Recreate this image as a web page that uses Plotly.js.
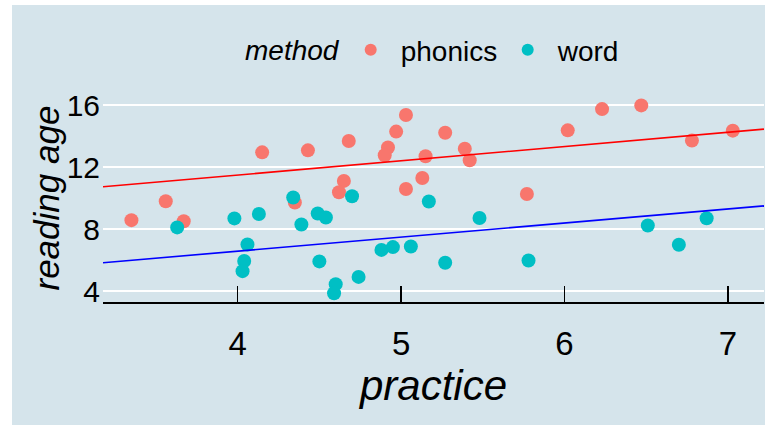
<!DOCTYPE html>
<html>
<head>
<meta charset="utf-8">
<script src="https://cdn.plot.ly/plotly-3.0.1.min.js"></script>
<style>
  html, body { margin: 0; padding: 0; background: #ffffff; width: 765px; height: 425px; overflow: hidden; }
  #chart { position: absolute; left: 12px; top: 5px; width: 753px; height: 420px; }
</style>
</head>
<body>
<div id="chart"></div>
<script>
// ---- data ----
const methods = ["phonics", "word"];
const legendTitle = "method";
const xTitle = "practice";
const yTitle = "reading age";
const phonicsPractice = [4.15, 4.43, 3.56, 3.35, 3.67, 4.35, 4.68, 5.03, 4.97, 5.27, 4.92, 4.90, 5.15, 5.39, 5.42, 4.65, 4.62, 5.03, 5.13, 6.02, 6.23, 6.47, 6.78, 7.03, 5.77];
const phonicsAge      = [12.95, 13.08, 9.80, 8.58, 8.51, 9.72, 13.68, 15.36, 14.29, 14.22, 13.26, 12.76, 12.70, 13.19, 12.44, 11.11, 10.38, 10.59, 11.30, 14.37, 15.74, 15.98, 13.71, 14.35, 10.27];
const wordPractice    = [3.63, 3.98, 4.13, 4.34, 4.39, 4.06, 4.04, 4.03, 4.70, 5.17, 4.49, 4.54, 5.48, 4.88, 4.95, 5.06, 4.50, 5.27, 4.74, 4.60, 4.59, 5.78, 6.51, 6.70, 6.87];
const wordAge         = [8.11, 8.69, 8.98, 10.04, 8.30, 7.01, 5.94, 5.29, 10.12, 9.78, 9.01, 8.75, 8.72, 6.66, 6.84, 6.88, 5.92, 5.83, 4.92, 4.45, 3.86, 5.98, 8.23, 6.99, 8.70];
// fitted lines (intercept, slope) per method
const fitIntercept = [7.81, 2.95];
const fitSlope     = [0.919, 0.907];
const xTicks = [4, 5, 6, 7];
const yTicks = [4, 8, 12, 16];

// ---- styling ----
const pointColors = ["#F8766D", "#00BFC4"];
const lineColors = ["#ff0000", "#0000ff"];
const xRange = [3.176, 7.221];
const yRange = [3.30, 16.65];
const bg = "#d5e4eb";
const font = "Liberation Sans, Arial, sans-serif";

const traces = [
  { x: phonicsPractice, y: phonicsAge, name: methods[0], type: "scatter", mode: "markers",
    marker: { color: pointColors[0], size: 14 }, cliponaxis: false },
  { x: wordPractice, y: wordAge, name: methods[1], type: "scatter", mode: "markers",
    marker: { color: pointColors[1], size: 14 }, cliponaxis: false }
];
methods.forEach((m, i) => {
  traces.push({
    x: xRange,
    y: xRange.map(v => fitIntercept[i] + fitSlope[i] * v),
    type: "scatter", mode: "lines", showlegend: false, hoverinfo: "skip",
    line: { color: lineColors[i], width: 1.6 }
  });
});

const layout = {
  width: 753, height: 420,
  margin: { l: 91, r: 1, t: 90, b: 123 },
  paper_bgcolor: bg, plot_bgcolor: bg,
  font: { family: font, color: "#000000" },
  showlegend: true,
  legend: {
    orientation: "h", xref: "paper", yref: "paper",
    x: 0.3596, xanchor: "left", y: 1.217, yanchor: "middle",
    bgcolor: "rgba(0,0,0,0)",
    font: { size: 28, family: font, color: "#000" },
    itemwidth: 50,
    entrywidth: 92,
    itemsizing: "constant"
  },
  annotations: [{
    text: "<i>" + legendTitle + "</i>", xref: "paper", yref: "paper",
    x: 0.3611, xanchor: "right", y: 1.217, yanchor: "middle",
    showarrow: false, font: { size: 28, family: font, color: "#000" }
  }, {
    text: "<i>" + yTitle + "</i>", xref: "paper", yref: "paper",
    x: -0.0862, xanchor: "center", y: 0.5, yanchor: "middle", textangle: -90,
    showarrow: false, font: { size: 35, family: font, color: "#000" }
  }],
  xaxis: {
    range: xRange, tickvals: xTicks, ticktext: xTicks.map(String),
    showgrid: false, zeroline: false,
    showline: true, linecolor: "#000", linewidth: 1.5,
    ticks: "inside", ticklen: 16, tickwidth: 1.5, tickcolor: "#000",
    ticklabelstandoff: 12,
    tickfont: { size: 33, family: font, color: "#000" },
    title: { text: "<i>" + xTitle + "</i>", font: { size: 42, family: font, color: "#000" }, standoff: 6 }
  },
  yaxis: {
    range: yRange, tickvals: yTicks, ticktext: yTicks.map(String),
    showgrid: true, gridcolor: "#ffffff", gridwidth: 2.6,
    zeroline: false, showline: false, ticks: "",
    ticklabelstandoff: 2,
    tickfont: { size: 30, family: font, color: "#000" }
  }
};

Plotly.newPlot("chart", traces, layout, { displayModeBar: false, staticPlot: true });
</script>
</body>
</html>
